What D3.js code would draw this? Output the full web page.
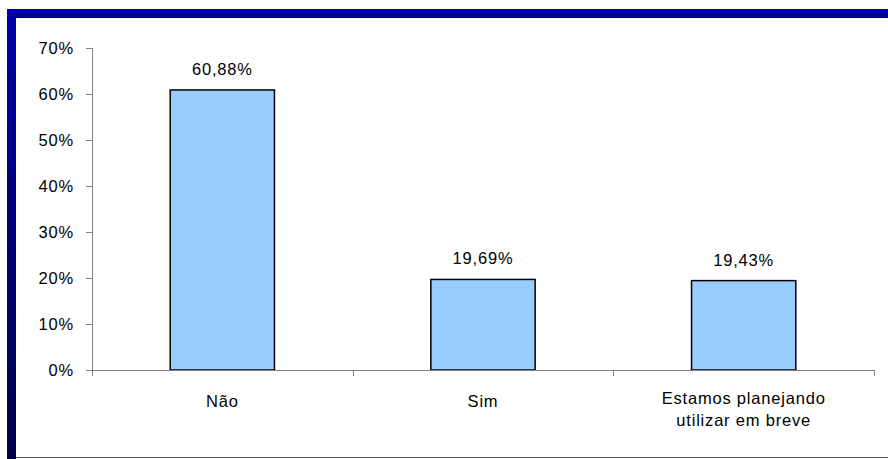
<!DOCTYPE html>
<html>
<head>
<meta charset="utf-8">
<script src="https://cdn.jsdelivr.net/npm/d3@7"></script>
<style>
  body { margin: 0; background: #fff; }
  text { font-family: "Liberation Sans", Arial, sans-serif; font-size: 16.5px; fill: #000; letter-spacing: 0.8px; }
</style>
</head>
<body>
<div id="chart"></div>
<script>
var width = 888, height = 459;

// data
var categories = ['Não', 'Sim', 'Estamos planejando|utilizar em breve'];
var values = [60.88, 19.69, 19.43];
var valueLabels = ['60,88%', '19,69%', '19,43%'];
var yTicks = [0, 10, 20, 30, 40, 50, 60, 70];

var svg = d3.select('#chart').append('svg')
  .attr('width', width)
  .attr('height', height);

// frame: blue bars on top and left, like the old office chart border
var defs = svg.append('defs');
var grad = defs.append('linearGradient')
  .attr('id', 'leftbar')
  .attr('x1', 0).attr('y1', 0).attr('x2', 0).attr('y2', 1);
grad.append('stop').attr('offset', '0%').attr('stop-color', '#0000a8');
grad.append('stop').attr('offset', '100%').attr('stop-color', '#00004a');

svg.append('rect')
  .attr('x', 7).attr('y', 9)
  .attr('width', width - 7).attr('height', 9)
  .attr('fill', '#0000a0');
svg.append('rect')
  .attr('x', 7).attr('y', 9)
  .attr('width', 9).attr('height', height - 9)
  .attr('fill', 'url(#leftbar)');
svg.append('line')
  .attr('x1', 16).attr('x2', width)
  .attr('y1', 17.5).attr('y2', 17.5)
  .attr('stroke', '#000030');
svg.append('line')
  .attr('x1', 16).attr('x2', width)
  .attr('y1', 457.5).attr('y2', 457.5)
  .attr('stroke', '#555');

var plot = { left: 92, right: 874, top: 48, bottom: 370 };

var x = d3.scaleBand()
  .domain(categories)
  .range([plot.left, plot.right])
  .padding(0);

var y = d3.scaleLinear()
  .domain([0, 70])
  .range([plot.bottom, plot.top]);

var barW = x.bandwidth() * 0.4;

// bars
svg.selectAll('rect.bar')
  .data(values)
  .enter()
  .append('rect')
  .attr('class', 'bar')
  .attr('x', (d, i) => x(categories[i]) + (x.bandwidth() - barW) / 2)
  .attr('y', d => y(d))
  .attr('width', barW)
  .attr('height', d => y(0) - y(d))
  .attr('fill', '#99ccff')
  .attr('stroke', '#000')
  .attr('stroke-width', 1.5);

// value labels
svg.selectAll('text.val')
  .data(values)
  .enter()
  .append('text')
  .attr('class', 'val')
  .attr('x', (d, i) => x(categories[i]) + x.bandwidth() / 2)
  .attr('y', d => y(d) - 15)
  .attr('text-anchor', 'middle')
  .text((d, i) => valueLabels[i]);

// y axis
var yAxis = d3.axisLeft(y)
  .tickValues(yTicks)
  .tickSize(6)
  .tickPadding(12)
  .tickFormat(d => d + '%');

var gy = svg.append('g')
  .attr('transform', 'translate(' + plot.left + ',0)')
  .call(yAxis);
gy.select('.domain').attr('stroke', '#808080');
gy.selectAll('.tick line').attr('stroke', '#808080');
gy.selectAll('.tick text')
  .attr('font-family', '"Liberation Sans", Arial, sans-serif')
  .attr('font-size', 16.5)
  .attr('fill', '#000');

// x axis line and band separators
svg.append('line')
  .attr('x1', plot.left).attr('x2', plot.right)
  .attr('y1', plot.bottom + 0.5).attr('y2', plot.bottom + 0.5)
  .attr('stroke', '#808080');

var seps = categories.map(c => x(c)).concat([plot.right]);
svg.selectAll('line.sep')
  .data(seps)
  .enter()
  .append('line')
  .attr('class', 'sep')
  .attr('x1', d => Math.round(d) + 0.5).attr('x2', d => Math.round(d) + 0.5)
  .attr('y1', plot.bottom).attr('y2', plot.bottom + 6)
  .attr('stroke', '#808080');

// category labels
var cat = svg.selectAll('text.cat')
  .data(categories)
  .enter()
  .append('text')
  .attr('class', 'cat')
  .attr('text-anchor', 'middle')
  .attr('x', d => x(d) + x.bandwidth() / 2)
  .attr('y', 407);

cat.each(function(d) {
  var lines = d.split('|');
  var t = d3.select(this);
  if (lines.length > 1) t.attr('y', 404);
  lines.forEach(function(l, i) {
    t.append('tspan')
      .attr('x', t.attr('x'))
      .attr('dy', i === 0 ? 0 : 22)
      .text(l);
  });
});
</script>
</body>
</html>
